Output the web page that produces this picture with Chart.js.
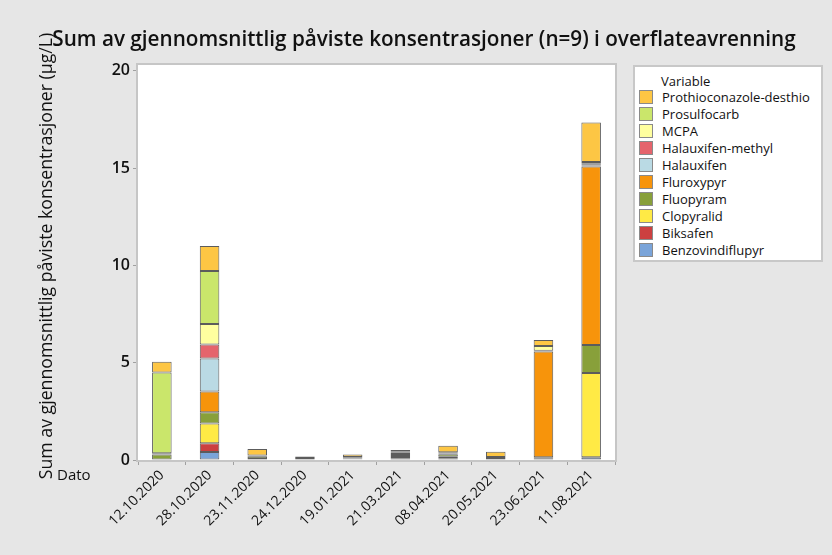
<!DOCTYPE html>
<html>
<head>
<meta charset="utf-8">
<script src="https://cdn.jsdelivr.net/npm/chart.js@4"></script>
<style>
  body { margin: 0; background: #e6e6e6; font-family: "Open Sans", sans-serif; }
  #wrap { position: relative; width: 832px; height: 555px; }
  #legend {
    position: absolute; left: 633px; top: 65px; width: 186px; height: 193px;
    background: #fff; border: 2px solid #c8c8c8; font-size: 13px; color: #111;
  }
  #legend .head { position: absolute; left: 26px; top: 5px; }
  #legend .row { position: absolute; left: 4px; height: 17px; line-height: 17px; white-space: nowrap; }
  #legend .sw { display: inline-block; width: 12px; height: 12px; border: 1px solid #8a8a8a; vertical-align: -2px; margin-right: 9px; }
</style>
</head>
<body>
<div id="wrap">
  <canvas id="chart" width="832" height="555"></canvas>
  <div id="legend"></div>
</div>
<script>
// Sampling dates
const dates = ["12.10.2020", "28.10.2020", "23.11.2020", "24.12.2020", "19.01.2021",
               "21.03.2021", "08.04.2021", "20.05.2021", "23.06.2021", "11.08.2021"];

// Values (µg/L) per substance, stacked bottom to top
const benzovindiflupyr  = [0,    0.41, 0,    0.05, 0.04, 0.07, 0.09, 0.05, 0.07, 0.14];
const biksafen          = [0,    0.45, 0.05, 0.05, 0.04, 0.08, 0.08, 0.05, 0,    0];
const clopyralid        = [0,    1.01, 0,    0,    0.03, 0.06, 0,    0,    0,    4.33];
const fluopyram         = [0.28, 0.59, 0.12, 0.08, 0.05, 0.10, 0.12, 0.06, 0.07, 1.44];
const fluroxypyr        = [0.07, 1.06, 0,    0,    0,    0.06, 0.05, 0,    5.43, 9.18];
const halauxifen        = [0,    1.69, 0,    0,    0,    0,    0,    0,    0,    0.04];
const halauxifenMethyl  = [0,    0.73, 0,    0,    0,    0,    0,    0,    0.05, 0.04];
const mcpa              = [0,    1.05, 0,    0,    0,    0,    0,    0,    0.24, 0.08];
const prosulfocarb      = [4.15, 2.72, 0.06, 0,    0,    0.05, 0.06, 0,    0,    0.06];
const prothioconazole   = [0.55, 1.29, 0.34, 0,    0.12, 0.10, 0.33, 0.26, 0.31, 2.03];

const yTicks = [0, 5, 10, 15, 20];

const seriesNames = ["Benzovindiflupyr", "Biksafen", "Clopyralid", "Fluopyram", "Fluroxypyr",
                     "Halauxifen", "Halauxifen-methyl", "MCPA", "Prosulfocarb", "Prothioconazole-desthio"];
const seriesData = [benzovindiflupyr, biksafen, clopyralid, fluopyram, fluroxypyr,
                    halauxifen, halauxifenMethyl, mcpa, prosulfocarb, prothioconazole];
const seriesColors = ["#7aa4d9", "#cc4040", "#ffea45", "#88a03a", "#f7940b",
                      "#badae4", "#e5646c", "#ffff9f", "#cae66b", "#fdc644"];

const FONT = "'Open Sans', sans-serif";
const TEXT = "#111";

// white plot area, frame, titles and "Dato"
const framePlugin = {
  id: "frame",
  beforeDraw(chart) {
    const { ctx, chartArea: a } = chart;
    ctx.save();
    ctx.fillStyle = "#e6e6e6";
    ctx.fillRect(0, 0, chart.width, chart.height);
    ctx.fillStyle = "#fff";
    ctx.fillRect(a.left, a.top, a.right - a.left, a.bottom - a.top);
    ctx.restore();
  },
  afterDraw(chart) {
    const { ctx, chartArea: a } = chart;
    ctx.save();
    ctx.strokeStyle = "#c6c6c6";
    ctx.lineWidth = 2;
    ctx.strokeRect(a.left - 1, a.top - 1, a.right - a.left + 2, a.bottom - a.top + 2);
    ctx.fillStyle = TEXT;
    ctx.textAlign = "center";
    ctx.textBaseline = "middle";
    ctx.font = "600 20.7px " + FONT;
    ctx.fillText("Sum av gjennomsnittlig påviste konsentrasjoner (n=9) i overflateavrenning", 424, 40);
    ctx.save();
    ctx.translate(47, 256);
    ctx.rotate(-Math.PI / 2);
    ctx.font = "17.7px " + FONT;
    ctx.fillText("Sum av gjennomsnittlig påviste konsentrasjoner (µg/L)", 0, 0);
    ctx.restore();
    ctx.textAlign = "left";
    ctx.font = "15px " + FONT;
    ctx.fillText("Dato", 57, 476);
    ctx.restore();
  }
};

new Chart(document.getElementById("chart"), {
  type: "bar",
  data: {
    labels: dates,
    datasets: seriesNames.map((name, i) => ({
      label: name,
      data: seriesData[i],
      backgroundColor: seriesColors[i],
      borderColor: "#5c5c5c",
      borderWidth: 1,
      borderSkipped: false,
      barPercentage: 0.41,
      categoryPercentage: 1
    }))
  },
  options: {
    responsive: false,
    animation: false,
    layout: { padding: { top: 65, right: 217, left: 0, bottom: 0 } },
    plugins: { legend: { display: false }, title: { display: false }, tooltip: { enabled: false } },
    scales: {
      x: {
        stacked: true,
        border: { display: false },
        grid: { drawOnChartArea: false, drawTicks: true, tickLength: 5, tickColor: "#a0a0a0" },
        ticks: { font: { family: FONT, size: 14 }, color: TEXT, minRotation: 45, maxRotation: 45, padding: 2 },
        afterFit(s) { s.height = 95; }
      },
      y: {
        stacked: true,
        min: 0,
        max: 20.3,
        border: { display: false },
        grid: { drawOnChartArea: false, drawTicks: true, tickLength: 5, tickColor: "#a0a0a0" },
        ticks: { font: { family: FONT, size: 16, weight: "600" }, color: TEXT, padding: 3 },
        afterBuildTicks(s) { s.ticks = yTicks.map(v => ({ value: v })); },
        afterFit(s) { s.width = 138; }
      }
    }
  },
  plugins: [framePlugin]
});

// legend, top entry = top of stack
const legend = document.getElementById("legend");
legend.innerHTML = '<div class="head">Variable</div>';
seriesNames.slice().reverse().forEach((name, k) => {
  const i = seriesNames.length - 1 - k;
  const row = document.createElement("div");
  row.className = "row";
  row.style.top = (22 + k * 17) + "px";
  row.innerHTML = '<span class="sw" style="background:' + seriesColors[i] + '"></span>' + name;
  legend.appendChild(row);
});
</script>
</body>
</html>
